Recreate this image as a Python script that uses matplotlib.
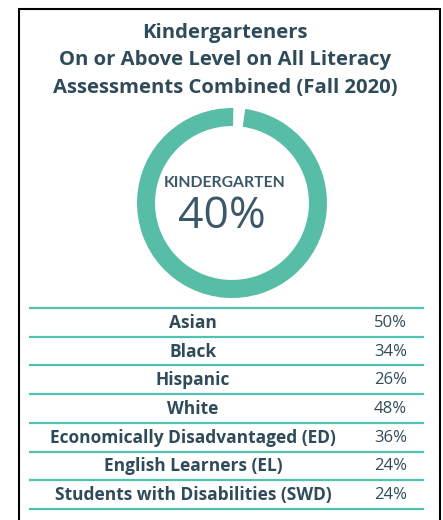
import matplotlib.pyplot as plt

# data
title_lines = ["Kindergarteners",
               "On or Above Level on All Literacy",
               "Assessments Combined (Fall 2020)"]
ring_label = "KINDERGARTEN"
ring_value = 40
groups = ["Asian", "Black", "Hispanic", "White",
          "Economically Disadvantaged (ED)", "English Learners (EL)",
          "Students with Disabilities (SWD)"]
percents = [50, 34, 26, 48, 36, 24, 24]

W, H = 443, 520
DARK = "#2f4b5a"
TEAL = "#4fc3b2"
RING = "#58bda7"

plt.rcParams["font.family"] = ["Open Sans", "DejaVu Sans"]

fig = plt.figure(figsize=(W / 100, H / 100), dpi=100)
ax = fig.add_axes([0, 0, 1, 1])
ax.set_xlim(0, W)
ax.set_ylim(H, 0)
ax.axis("off")

# frame (open at the bottom)
ax.plot([19, 19, 440, 440], [H + 5, 9, 9, H + 5], color="black", lw=1.5,
        solid_joinstyle="miter")

# title
for i, line in enumerate(title_lines):
    ax.text(225, 33 + i * 27.5, line, ha="center", va="center",
            fontsize=14.6, fontweight="bold", color=DARK)

# ring
cx, cy, r = 232, 203, 95
ax_ring = fig.add_axes([(cx - r) / W, (H - cy - r) / H, 2 * r / W, 2 * r / H])
ax_ring.pie([98, 2], radius=1, startangle=82, counterclock=False,
            colors=[RING, "none"], wedgeprops=dict(width=0.19, linewidth=0))
ax_ring.set_aspect("equal")
ax_ring.set_xlim(-1, 1)
ax_ring.set_ylim(-1, 1)
ax_ring.axis("off")

ax.text(cx - 7, 187, ring_label, ha="center", va="baseline", fontsize=11.3,
        fontweight="bold", color="#3b5868", family=["Lato", "DejaVu Sans"])
ax.text(cx - 10, 228, f"{ring_value}%", ha="center", va="baseline",
        fontsize=32, fontweight="normal", color="#3b5868")

# table
top = 308
step = 28.7
for i in range(len(groups) + 1):
    y = top + i * step
    ax.plot([29, 424], [y, y], color=TEAL, lw=1.6, solid_capstyle="butt")

for i, (g, p) in enumerate(zip(groups, percents)):
    y = top + (i + 0.5) * step + 0.5
    ax.text(193, y, g, ha="center", va="center", fontsize=12.5,
            fontweight="bold", color=DARK)
    ax.text(407, y, f"{p}%", ha="right", va="center", fontsize=12,
            color=DARK)

fig.savefig("out.png", dpi=100)
